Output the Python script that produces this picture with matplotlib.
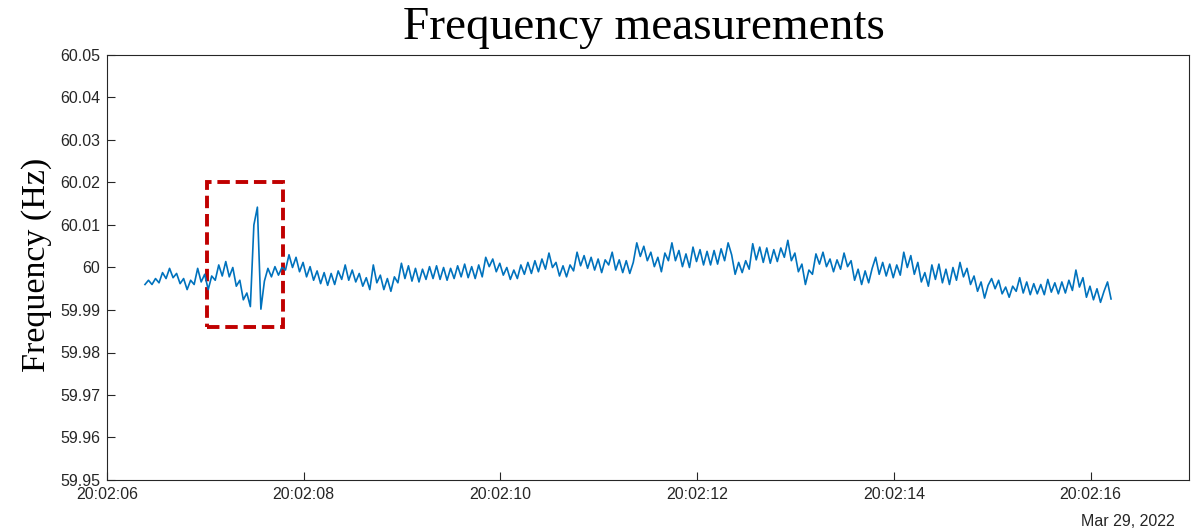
import numpy as np
import pandas as pd
import matplotlib
matplotlib.use('Agg')
from matplotlib import pyplot as plt
from matplotlib.patches import Rectangle
import matplotlib.dates as mdates

# deviation from 60 Hz in mHz, one sample every 1/28 s
dev_mhz = [
    -4.0, -3.0, -4.0, -2.6, -3.6, -1.2, -2.6, -0.2, -2.4, -1.4,
    -3.8, -2.6, -5.2, -3.0, -4.0, -0.2, -3.4, -1.6, -5.2, -2.0,
    -3.0, 0.6, -2.0, 1.4, -2.2, 0.0, -4.4, -3.0, -7.6, -6.0,
    -9.2, 10.0, 14.2, -9.8, -3.2, -0.2, -2.2, 0.2, -1.8, 0.0,
    -0.6, 3.0, 0.0, 2.4, -1.0, 1.2, -2.2, 0.2, -3.0, -0.8,
    -3.8, -1.2, -4.2, -1.4, -4.0, -0.8, -2.8, 0.6, -3.0, -0.6,
    -3.4, -1.4, -4.4, -2.4, -5.2, 0.6, -3.6, -1.8, -5.2, -2.6,
    -5.6, -2.2, -3.6, 1.0, -2.6, 0.4, -3.2, -0.2, -3.4, -0.4,
    -2.8, 0.2, -2.6, 0.4, -2.8, 0.0, -3.0, -0.2, -2.6, 0.4,
    -2.2, 0.8, -2.4, 0.2, -2.6, 0.6, -2.2, 2.4, 0.2, 2.0,
    -1.0, 1.0, -1.8, 0.0, -2.8, -0.6, -2.6, 0.6, -1.6, 1.2,
    -1.4, 1.6, -1.0, 2.0, -0.4, 3.4, 0.0, 1.2, -2.0, 0.4,
    -2.2, 0.6, -0.8, 3.6, 0.4, 2.8, -0.2, 2.4, -0.6, 2.0,
    -1.2, 1.8, 0.6, 3.6, -0.6, 1.8, -1.2, 1.6, -1.4, 1.2,
    5.8, 2.6, 5.0, 1.6, 3.6, 0.2, 2.4, -1.0, 3.4, 1.6,
    5.8, 1.6, 4.0, 0.2, 3.2, 0.0, 4.8, 1.4, 4.2, 0.6,
    3.8, 0.6, 4.0, 0.8, 4.4, 1.6, 5.8, 3.0, -1.6, 1.2,
    -1.2, 1.6, -0.4, 5.6, 1.8, 4.8, 1.2, 4.6, 1.0, 4.2,
    1.4, 4.6, 2.4, 6.4, 1.6, 3.4, -1.0, 0.8, -4.0, -0.6,
    -1.6, 3.2, 0.8, 3.6, 0.2, 2.0, -1.0, 1.8, -0.4, 3.4,
    0.2, 1.6, -3.0, -0.4, -4.0, -0.8, -3.6, -0.2, 2.4, -1.6,
    1.2, -2.0, 0.8, -2.4, 0.6, -1.8, 3.6, 0.0, 2.8, -1.6,
    1.2, -3.4, -1.2, -4.4, 0.6, -2.8, 0.8, -3.6, -0.4, -4.0,
    0.0, -3.0, 1.2, -2.2, -0.2, -4.0, -2.0, -5.6, -3.4, -7.2,
    -4.2, -2.6, -5.0, -3.0, -6.2, -4.6, -7.0, -4.4, -5.6, -2.4,
    -6.0, -3.4, -6.4, -3.8, -6.2, -4.0, -6.4, -2.8, -5.8, -3.6,
    -6.2, -3.4, -6.0, -3.0, -5.4, -0.6, -4.6, -2.4, -7.0, -4.4,
    -7.6, -5.0, -8.2, -5.6, -3.4, -7.4,
]
start_time = '2022-03-29 20:02:06.386'
sample_rate = 28

# event window marked on the plot
box_t0, box_t1 = '2022-03-29 20:02:07.015', '2022-03-29 20:02:07.787'
box_f0, box_f1 = 59.9861, 60.0200

x_min, x_max = '2022-03-29 20:02:06', '2022-03-29 20:02:17'
xtick_times = pd.date_range('2022-03-29 20:02:06', periods=6, freq='2s')
ytick_vals = np.round(np.arange(59.95, 60.0501, 0.01), 2)

t = pd.Timestamp(start_time) + pd.to_timedelta(np.arange(len(dev_mhz)) / sample_rate, unit='s')
freq = 60 + np.array(dev_mhz) / 1000

tick_font = 'Liberation Sans'
label_font = 'Liberation Serif'
grey = '#262626'

fig = plt.figure(figsize=(12.03, 5.31), dpi=100)
ax = fig.add_axes([107 / 1203, 1 - 480 / 531, 1082 / 1203, 425 / 531])

ax.plot(t.to_pydatetime(), freq, color='#0072BD', lw=1.2)

x0 = mdates.date2num(pd.Timestamp(box_t0).to_pydatetime())
x1 = mdates.date2num(pd.Timestamp(box_t1).to_pydatetime())
ax.add_patch(Rectangle((x0, box_f0), x1 - x0, box_f1 - box_f0, fill=False,
                       edgecolor='#C00000', lw=2.8, linestyle=(0, (3.2, 1.5))))

ax.set_xlim(pd.Timestamp(x_min).to_pydatetime(), pd.Timestamp(x_max).to_pydatetime())
ax.set_ylim(59.95, 60.05)
ax.set_xticks(xtick_times.to_pydatetime())
ax.xaxis.set_major_formatter(mdates.DateFormatter('%H:%M:%S'))
ax.set_yticks(ytick_vals)
ax.set_yticklabels([f'{v:g}' for v in ytick_vals])

ax.tick_params(direction='in', length=6, width=0.8, colors=grey, labelsize=11.5, pad=5)
for lab in ax.get_xticklabels() + ax.get_yticklabels():
    lab.set_fontfamily(tick_font)
for s in ax.spines.values():
    s.set_color(grey)
    s.set_linewidth(0.8)

fig.text(1175 / 1203, 1 - 521 / 531, 'Mar 29, 2022', ha='right', va='center',
         fontsize=11.5, color=grey, family=tick_font)
fig.text(644 / 1203, 1 - 39 / 531, 'Frequency measurements', ha='center', va='baseline',
         fontsize=34, family=label_font, color='black')
fig.text(37 / 1203, 1 - 265 / 531, 'Frequency (Hz)', ha='center', va='center',
         rotation=90, fontsize=24.5, family=label_font, color='black')

fig.savefig('out.png', dpi=100)
